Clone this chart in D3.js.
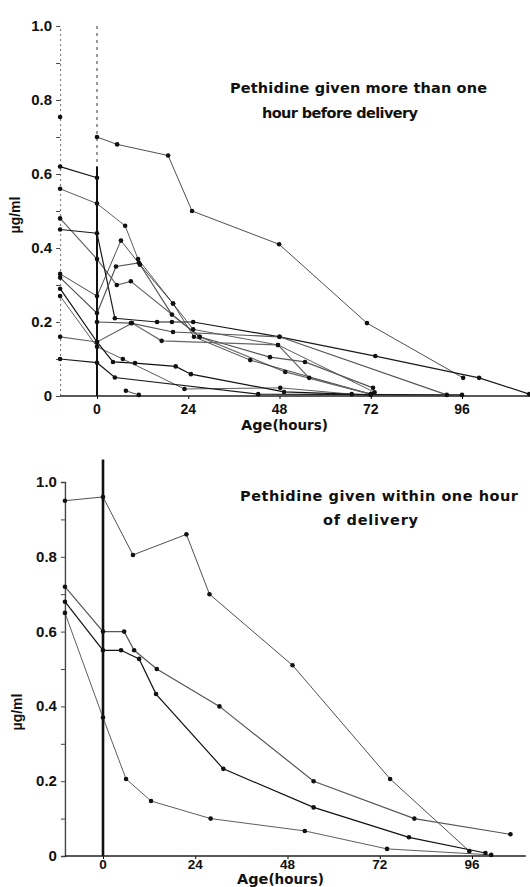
<!DOCTYPE html>
<html>
<head>
<meta charset="utf-8">
<script src="https://cdn.jsdelivr.net/npm/d3@7"></script>
<style>
  body { margin: 0; background: #fff; }
  svg { display: block; font-family: "Liberation Sans", Arial, sans-serif; font-weight: bold; }
</style>
</head>
<body>
<svg width="530" height="887"></svg>
<script>
// x values in hours after delivery, y in µg/ml
const xTicks = [0, 24, 48, 72, 96];
const yTicks = [0, 0.2, 0.4, 0.6, 0.8, 1.0];
const yTickLabels = ["0", "0.2", "0.4", "0.6", "0.8", "1.0"];

// top panel: pethidine more than one hour before delivery
const topSeries = [
  [[0, 0.70], [5.3, 0.68], [18.7, 0.65], [25, 0.50], [47.9, 0.41], [71, 0.197], [96.3, 0.049]],
  [[-9.7, 0.754]],
  [[-9.7, 0.62], [0, 0.59]],
  [[-9.7, 0.56], [0, 0.52], [7.4, 0.46], [10.8, 0.37], [20, 0.25], [25.3, 0.18], [47.6, 0.138], [73, 0.01]],
  [[-9.7, 0.48], [0, 0.37], [5.2, 0.30], [8.9, 0.31], [27, 0.16], [49.5, 0.065], [72, 0.005]],
  [[-9.7, 0.45], [0, 0.44], [4.7, 0.21], [15.8, 0.20], [19.7, 0.20], [25.3, 0.20], [48, 0.16], [73.2, 0.108], [100.5, 0.049], [113.7, 0.005]],
  [[-9.7, 0.33], [0, 0.27], [6.3, 0.42], [11.3, 0.355], [20, 0.25], [25.5, 0.16], [40.3, 0.097], [72, 0.005]],
  [[-9.7, 0.32], [0, 0.224], [5, 0.35], [11, 0.36], [19.7, 0.22], [27, 0.16], [45.5, 0.105], [54.7, 0.092], [72.6, 0.022]],
  [[-9.7, 0.29], [0, 0.146], [4.2, 0.092], [10, 0.089], [20.7, 0.08], [24.7, 0.059], [49.2, 0.011], [72, 0.003]],
  [[-9.7, 0.27], [0, 0.133], [6.8, 0.10], [23, 0.019], [48.2, 0.022], [67, 0.005]],
  [[-9.7, 0.16], [0, 0.146], [9.2, 0.197], [17, 0.149], [47.6, 0.138], [55.8, 0.049], [72, 0.005]],
  [[-9.7, 0.10], [0, 0.09], [4.7, 0.05], [42.4, 0.005], [96, 0.003]],
  [[7.6, 0.014], [11, 0.003]],
  [[0, 0.20], [8.9, 0.197], [20, 0.173], [48, 0.16], [92, 0.003]]
];

// bottom panel: pethidine within one hour of delivery
const bottomSeries = [
  [[-9.9, 0.95], [0, 0.96], [7.8, 0.805], [21.7, 0.86], [27.7, 0.70], [49.3, 0.51], [74.7, 0.206], [95.3, 0.013]],
  [[-9.9, 0.72], [0, 0.60], [5.5, 0.60], [8.1, 0.55], [14, 0.50], [30.3, 0.40], [54.8, 0.20], [81, 0.10], [106, 0.058]],
  [[-9.9, 0.68], [0, 0.55], [4.7, 0.55], [9.4, 0.527], [13.8, 0.433], [31.3, 0.233], [54.8, 0.13], [79.6, 0.05], [99.5, 0.008]],
  [[-9.9, 0.65], [0, 0.37], [6, 0.206], [12.5, 0.147], [28, 0.10], [52.5, 0.067], [73.9, 0.019], [101, 0.003]]
];

const topTitle = ["Pethidine given more than one", "hour before delivery"];
const bottomTitle = ["Pethidine given within one hour", "of delivery"];

const svg = d3.select("svg");

function panel(cfg) {
  const g = svg.append("g");
  const x = d3.scaleLinear().domain([0, 96]).range(cfg.xRange);
  const y = d3.scaleLinear().domain([0, 1]).range(cfg.yRange);
  const x0 = x(cfg.xMin);

  // y axis with minor ticks every 0.1
  const yAxis = g.append("g")
    .attr("transform", `translate(${x0},0)`)
    .call(d3.axisLeft(y).tickValues(d3.range(0, 1.01, 0.1)).tickSize(4).tickFormat(""));
  yAxis.select(".domain").attr("stroke", "#444").attr("stroke-width", cfg.solidAxis ? 1.4 : 0.8)
    .attr("stroke-dasharray", cfg.solidAxis ? null : "2,3");
  yAxis.selectAll(".tick line").attr("stroke", "#444");

  g.selectAll(".ylab")
    .data(yTicks)
    .enter().append("text")
    .attr("x", x0 - 8)
    .attr("y", d => y(d) + 5)
    .attr("text-anchor", "end")
    .attr("font-size", 15)
    .attr("fill", "#111")
    .text((d, i) => yTickLabels[i]);

  // x axis
  const xAxis = g.append("g")
    .attr("transform", `translate(0,${y(0)})`)
    .call(d3.axisBottom(x).tickValues(xTicks).tickSize(3).tickFormat(""));
  xAxis.select(".domain").remove();
  g.append("line")
    .attr("x1", x0).attr("x2", x(cfg.xMax))
    .attr("y1", y(0)).attr("y2", y(0))
    .attr("stroke", "#222").attr("stroke-width", 1.3);

  g.selectAll(".xlab")
    .data(xTicks)
    .enter().append("text")
    .attr("x", d => x(d))
    .attr("y", y(0) + cfg.xLabOff)
    .attr("text-anchor", "middle")
    .attr("font-size", cfg.xLabSize)
    .attr("fill", "#111")
    .text(d => d);

  // delivery line at 0 h
  g.append("line")
    .attr("x1", x(0)).attr("x2", x(0))
    .attr("y1", y(cfg.zeroTop)).attr("y2", y(cfg.zeroDash))
    .attr("stroke", "#333").attr("stroke-width", 1)
    .attr("stroke-dasharray", "3,4");
  g.append("line")
    .attr("x1", x(0)).attr("x2", x(0))
    .attr("y1", y(cfg.zeroDash)).attr("y2", y(0))
    .attr("stroke", "#111").attr("stroke-width", cfg.zeroWidth);

  const line = d3.line().x(d => x(d[0])).y(d => y(d[1]));
  const greys = ["#222", "#555", "#111", "#333", "#666", "#1a1a1a"];

  g.selectAll(".series")
    .data(cfg.series)
    .enter().append("path")
    .attr("d", line)
    .attr("fill", "none")
    .attr("stroke", (d, i) => greys[i % greys.length])
    .attr("stroke-width", (d, i) => i % 3 === 0 ? 0.8 : 1.2);

  g.selectAll(".pts")
    .data(cfg.series.flat())
    .enter().append("circle")
    .attr("cx", d => x(d[0]))
    .attr("cy", d => y(d[1]))
    .attr("r", 2.3)
    .attr("fill", "#111");

  // titles, stretched to the width of the printed lettering
  g.selectAll(".title")
    .data(cfg.title)
    .enter().append("text")
    .attr("x", (d, i) => cfg.titlePos[i][0])
    .attr("y", (d, i) => cfg.titlePos[i][1])
    .attr("textLength", (d, i) => cfg.titlePos[i][2])
    .attr("lengthAdjust", "spacing")
    .attr("font-family", "DejaVu Sans, sans-serif")
    .attr("font-size", 14.5)
    .attr("fill", "#111")
    .text(d => d);

  // axis titles
  const xt = g.append("text")
    .attr("x", cfg.xTitle[0]).attr("y", cfg.xTitle[1])
    .attr("font-family", "DejaVu Sans, sans-serif")
    .attr("fill", "#111");
  xt.append("tspan").attr("font-size", 14.5).text("Age");
  xt.append("tspan").attr("font-size", 13.5).text("(hours)");

  g.append("text")
    .attr("transform", `translate(${cfg.yTitle[0]},${cfg.yTitle[1]}) rotate(-90)`)
    .attr("text-anchor", "middle")
    .attr("font-size", 14)
    .attr("fill", "#111")
    .text("µg/ml");
}

panel({
  series: topSeries,
  xRange: [97, 462], yRange: [396, 26],
  xMin: -9.7, xMax: 115,
  solidAxis: false,
  xLabOff: 18, xLabSize: 14,
  zeroTop: 1.0, zeroDash: 0.62, zeroWidth: 2,
  title: topTitle,
  titlePos: [[230, 93, 257], [262, 118, 156]],
  xTitle: [241, 430],
  yTitle: [20, 215]
});

panel({
  series: bottomSeries,
  xRange: [103, 472], yRange: [856, 482],
  xMin: -9.9, xMax: 110,
  solidAxis: true,
  xLabOff: 13, xLabSize: 13.5,
  zeroTop: 1.06, zeroDash: 1.06, zeroWidth: 2.6,
  title: bottomTitle,
  titlePos: [[240, 501, 278], [323, 525, 95]],
  xTitle: [237, 884],
  yTitle: [22, 712]
});
</script>
</body>
</html>
